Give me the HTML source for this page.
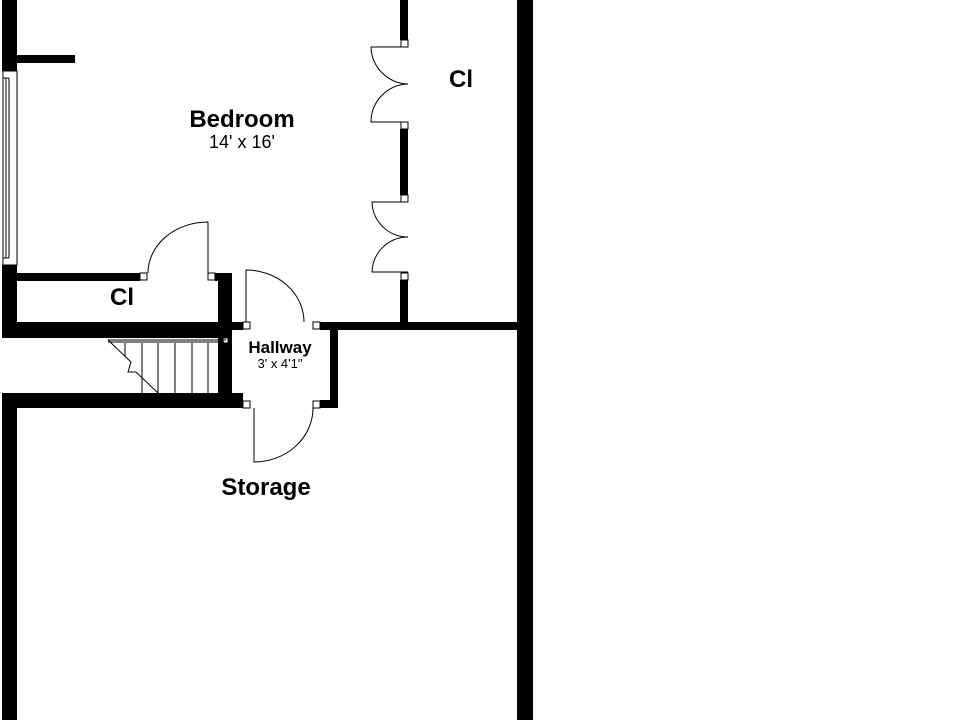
<!DOCTYPE html>
<html><head><style>html,body{margin:0;padding:0;background:#fff;}svg{display:block}</style></head>
<body>
<svg width="960" height="720" viewBox="0 0 960 720" xmlns="http://www.w3.org/2000/svg" font-family="Liberation Sans, Arial, sans-serif">
<rect width="960" height="720" fill="#fff"/>
<g fill="#000">
  <rect x="2" y="0" width="15" height="71"/>
  <rect x="17" y="55" width="58" height="8"/>
  <rect x="2" y="265" width="15" height="73"/>
  <rect x="517" y="0" width="16" height="720"/>
  <rect x="400" y="0" width="8" height="40"/>
  <rect x="400" y="129" width="8" height="66"/>
  <rect x="400" y="280" width="8" height="45"/>
  <rect x="320" y="322" width="200" height="8"/>
  <rect x="17" y="273" width="123" height="8"/>
  <rect x="215" y="273" width="17" height="8"/>
  <rect x="218" y="273" width="14" height="135"/>
  <rect x="2" y="322" width="230" height="16"/>
  <rect x="230" y="322" width="13" height="8"/>
  <rect x="330" y="322" width="8" height="86"/>
  <rect x="320" y="400" width="18" height="8"/>
  <rect x="2" y="393" width="241" height="15"/>
  <rect x="2" y="393" width="15" height="327"/>
</g>
<g fill="#fff" stroke="#000" stroke-width="1">
  <rect x="401" y="40" width="7" height="7"/>
  <rect x="401" y="122" width="7" height="7"/>
  <rect x="401" y="195" width="7" height="7"/>
  <rect x="401" y="273" width="7" height="7"/>
  <rect x="140" y="273" width="7" height="7"/>
  <rect x="208" y="273" width="7" height="7"/>
  <rect x="243" y="322" width="7" height="7"/>
  <rect x="313" y="322" width="7" height="7"/>
  <rect x="243" y="401" width="7" height="7"/>
  <rect x="313" y="401" width="7" height="7"/>
  <rect x="223" y="338" width="5" height="5"/>
  <rect x="3" y="71" width="14" height="194"/>
  <line x1="6" y1="78" x2="6" y2="258"/>
  <line x1="9" y1="78" x2="9" y2="258"/>
  <line x1="3" y1="78" x2="9" y2="78"/>
  <line x1="3" y1="258" x2="9" y2="258"/>
</g>
<g fill="none" stroke="#000" stroke-width="1">
  <path d="M408 47 H371 A38 38 0 0 0 408 84 A38 38 0 0 0 371 122 H408"/>
  <path d="M408 202 H372 A36 36 0 0 0 408 237 A36 36 0 0 0 372 272 H408"/>
  <path d="M208 273 V222 A60 51 0 0 0 148 273"/>
  <path d="M246 322 V270 A58 52 0 0 1 304 322"/>
  <path d="M254 408 V462 A59 54 0 0 0 313 408"/>
  <line x1="108" y1="340" x2="226" y2="340"/>
  <line x1="108" y1="342" x2="224" y2="342"/>
  <path d="M108 340 L131 362 L128 372 L136 372 L158 393"/>
  <line x1="125" y1="343" x2="125" y2="356"/>
  <line x1="142" y1="343" x2="142" y2="393"/>
  <line x1="158" y1="343" x2="158" y2="393"/>
  <line x1="175" y1="343" x2="175" y2="393"/>
  <line x1="192" y1="343" x2="192" y2="393"/>
  <line x1="208" y1="343" x2="208" y2="393"/>
</g>
<g fill="#000" text-anchor="middle">
  <text x="242" y="127" font-size="24" font-weight="bold">Bedroom</text>
  <text x="242" y="148" font-size="18">14' x 16'</text>
  <text x="461" y="87" font-size="24" font-weight="bold">Cl</text>
  <text x="122" y="305" font-size="24" font-weight="bold">Cl</text>
  <text x="280" y="353" font-size="17" font-weight="bold">Hallway</text>
  <text x="280" y="368" font-size="13">3' x 4'1"</text>
  <text x="266" y="495" font-size="24" font-weight="bold">Storage</text>
</g>
</svg>
</body></html>
